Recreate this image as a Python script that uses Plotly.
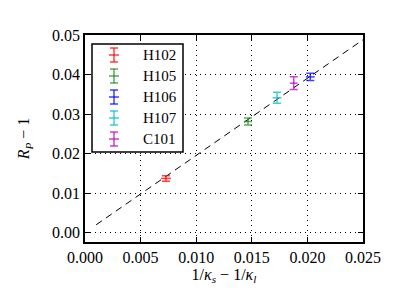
import plotly.graph_objects as go

# ---- data ----
names = ["H102", "H105", "H106", "H107", "C101"]
x_vals = [0.00728, 0.01466, 0.02026, 0.01727, 0.01877]
y_vals = [0.0137, 0.0281, 0.0394, 0.0341, 0.0378]
x_err = [0.00045, 0.00035, 0.00040, 0.00040, 0.00035]
y_err = [0.0007, 0.0009, 0.0009, 0.0014, 0.0016]
colors = ["rgba(255,0,0,0.75)", "rgba(0,128,0,0.65)", "rgba(0,0,255,0.75)",
          "rgba(0,191,191,0.75)", "rgba(191,0,191,0.75)"]
fit_x = [0.001, 0.025]
fit_y = [0.00195, 0.0488]
x_ticks = [0.000, 0.005, 0.010, 0.015, 0.020, 0.025]
y_ticks = [0.00, 0.01, 0.02, 0.03, 0.04, 0.05]

W, H = 395, 296
L, R, T, B = 77, 355, 27, 234
FONT = "Liberation Serif"
FS = 16

fig = go.Figure()
fig.add_trace(go.Scatter(x=fit_x, y=fit_y, mode="lines",
                         line=dict(color="black", width=1, dash="7px,5px"),
                         showlegend=False, hoverinfo="skip"))
for n, xv, yv, xe, ye, c in zip(names, x_vals, y_vals, x_err, y_err, colors):
    fig.add_trace(go.Scatter(
        x=[xv], y=[yv], mode="markers", name=n, showlegend=False,
        marker=dict(size=1, color="rgba(0,0,0,0)"),
        error_x=dict(type="data", array=[xe], color=c, thickness=1.5, width=0),
        error_y=dict(type="data", array=[ye], color=c, thickness=1.5, width=4)))

def px(xp):
    return (xp - L) / (R - L)

def py(yp):
    return (B - yp) / (B - T)

shapes = []
annotations = []
# legend frame
shapes.append(dict(type="rect", xref="paper", yref="paper",
                   x0=px(84), x1=px(175), y0=py(144), y1=py(36),
                   line=dict(color="black", width=1.5), fillcolor="white", layer="above"))
for i, (n, c) in enumerate(zip(names, colors)):
    yc = 47 + 21 * i
    xc = 106
    for (x0, y0, x1, y1) in [(xc, yc - 7, xc, yc + 7), (xc - 4, yc - 7, xc + 4, yc - 7),
                             (xc - 4, yc + 7, xc + 4, yc + 7), (xc - 5, yc, xc + 5, yc)]:
        shapes.append(dict(type="line", xref="paper", yref="paper",
                           x0=px(x0), x1=px(x1), y0=py(y0), y1=py(y1),
                           line=dict(color=c, width=1.5), layer="above"))
    annotations.append(dict(xref="paper", yref="paper", x=px(133), y=py(yc),
                            xanchor="left", yanchor="middle", text=n, showarrow=False,
                            font=dict(family=FONT, size=15, color="black")))

axis_common = dict(showline=True, linecolor="black", linewidth=1.5, mirror="allticks",
                   ticks="inside", ticklen=5, tickcolor="black", tickwidth=1,
                   showgrid=True, gridcolor="black", gridwidth=1, griddash="1px,4px",
                   zeroline=False, tickfont=dict(family=FONT, size=FS, color="black"))

fig.update_layout(
    width=W, height=H, margin=dict(l=L, r=W - R, t=T, b=H - B),
    paper_bgcolor="white", plot_bgcolor="white",
    shapes=shapes, annotations=annotations,
    xaxis=dict(range=[0, 0.025], tickvals=x_ticks, tickformat=".3f",
               title=dict(text="1/<i>κ</i><sub><i>s</i></sub> − 1/<i>κ</i><sub><i>l</i></sub>",
                          font=dict(family=FONT, size=FS, color="black"), standoff=1),
               **axis_common),
    yaxis=dict(range=[-0.0024, 0.05], tickvals=y_ticks, tickformat=".2f",
               title=dict(text="<i>R</i><sub><i>P</i></sub> − 1",
                          font=dict(family=FONT, size=FS, color="black"), standoff=18),
               **axis_common),
)
fig.write_html("out.html")
